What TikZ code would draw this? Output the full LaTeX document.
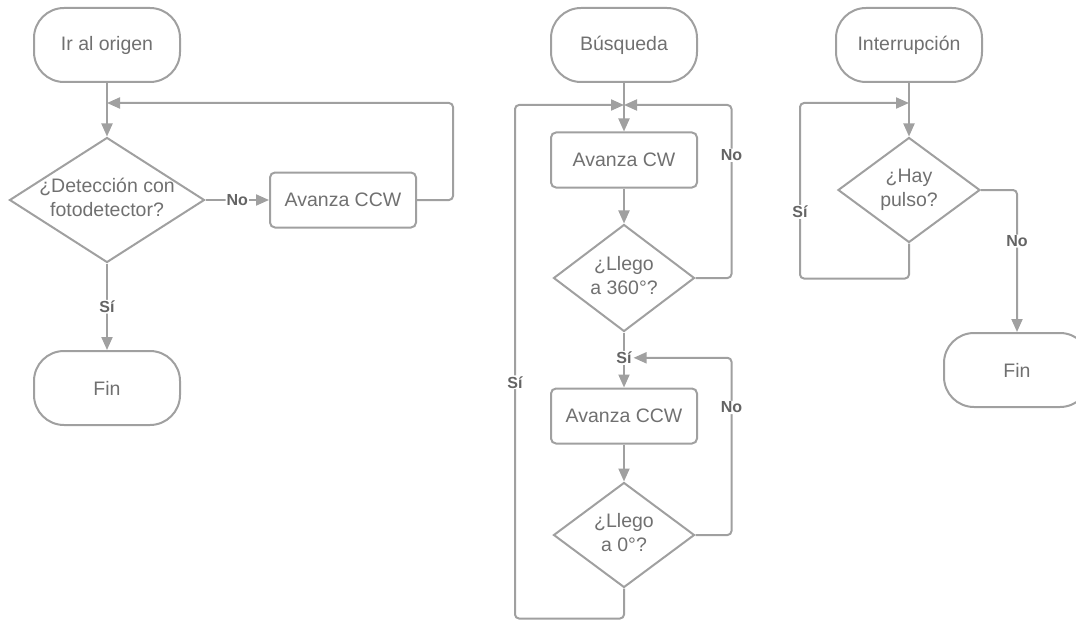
\documentclass[tikz,border=0pt]{standalone}
\usepackage{fontspec}
\setmainfont{Liberation Sans}
\usetikzlibrary{shapes.geometric,arrows.meta}

\definecolor{linegray}{RGB}{160,160,160}
\definecolor{textgray}{RGB}{112,112,112}
\definecolor{lblgray}{RGB}{100,100,100}

% text of a decision, kept out of the diamond size
\newcommand{\dtxt}[1]{\makebox[0pt]{\begin{tabular}{@{}c@{}}#1\end{tabular}}}

\tikzset{
    term/.style={draw=linegray, line width=2pt, rectangle, rounded corners=30pt,
        minimum width=146pt, minimum height=74pt, text=textgray,
        font=\fontsize{19.5}{24}\selectfont},
    proc/.style={draw=linegray, line width=2pt, rectangle, rounded corners=5pt,
        minimum width=146pt, minimum height=55pt, text=textgray,
        font=\fontsize{19.5}{24}\selectfont},
    decis/.style={draw=linegray, line width=2pt, diamond, inner sep=0pt,
        text=textgray, font=\fontsize{19.5}{24}\selectfont},
    lbl/.style={fill=white, text=lblgray, inner sep=1pt,
        font=\bfseries\fontsize{16}{18}\selectfont},
    arr/.style={draw=linegray, line width=2pt, rounded corners=4pt,
        -{Triangle[length=13pt,width=11pt]}},
}

\begin{document}
\begin{tikzpicture}[x=1pt, y=-1pt]

    \useasboundingbox (0,0) rectangle (1076,623);

    % Ir al origen
    \node[term] (ir) at (107,45) {Ir al origen};
    \node[decis, minimum width=195pt, minimum height=125pt] (det) at (107,200)
        {\dtxt{¿Detección con\\fotodetector?}};
    \node[proc] (ccwa) at (343,200) {Avanza CCW};
    \node[term] (fina) at (107,388) {Fin};
    \coordinate (jl) at (107,103);

    \draw[arr] (ir) -- (det);
    \draw[arr] (det) -- node[lbl] {No} (ccwa);
    \draw[arr] (ccwa.east) -- ++(36,0) |- (jl);
    \draw[arr] (det) -- node[lbl] {Sí} (fina);

    % Busqueda
    \node[term] (bus) at (624,45) {Búsqueda};
    \node[proc] (cw) at (624,160) {Avanza CW};
    \node[decis, minimum width=141pt, minimum height=107pt] (dmax) at (624,278)
        {\dtxt{¿Llego\\a 360°?}};
    \node[proc] (ccwb) at (624,416) {Avanza CCW};
    \node[decis, minimum width=141pt, minimum height=105pt] (dzero) at (624,535)
        {\dtxt{¿Llego\\a 0°?}};
    \coordinate (jm) at (624,105);

    \draw[arr] (bus) -- (cw);
    \draw[arr] (cw) -- (dmax);
    \draw[arr] (dmax) -- node[lbl, pos=0.46] (sib) {Sí} (ccwb);
    \draw[arr] (ccwb) -- (dzero);
    \draw[arr] (dmax.east) -- ++(36,0) |- node[lbl, pos=0.355] {No} (jm);
    \draw[arr] (dzero.east) -- ++(36,0) |- node[lbl, pos=0.36] {No} (sib.east);
    \draw[arr] (dzero.south) -- ++(0,30) -| node[lbl, pos=0.73] {Sí}
        ([xshift=-109pt]jm) -- (jm);

    % Interrupcion
    \node[term] (intr) at (909,45) {Interrupción};
    \node[decis, minimum width=142pt, minimum height=105pt] (hay) at (909,190)
        {\dtxt{¿Hay\\pulso?}};
    \node[term] (finc) at (1017,370) {Fin};
    \coordinate (jr) at (909,103);

    \draw[arr] (intr) -- (hay);
    \draw[arr] (hay.south) -- ++(0,35) -| node[lbl, pos=0.69] {Sí}
        ([xshift=-109pt]jr) -- (jr);
    \draw[arr] (hay.east) -| node[lbl, pos=0.68] {No} (finc);

\end{tikzpicture}
\end{document}
